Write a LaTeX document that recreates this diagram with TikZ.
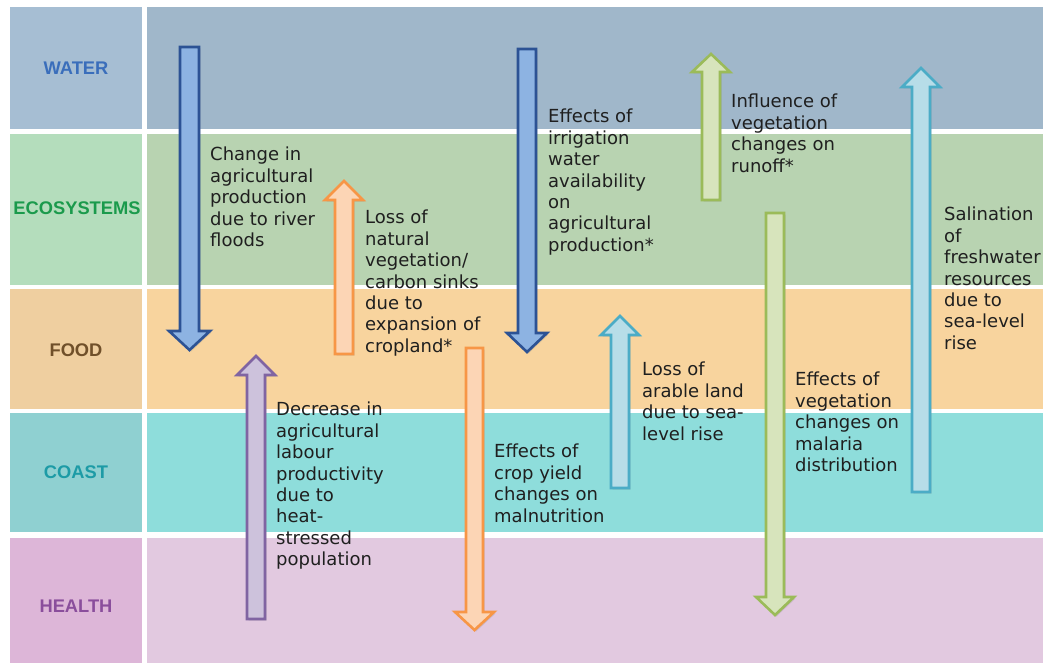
\documentclass[tikz,border=0pt]{standalone}
\usepackage{fontspec}
\setmainfont{DejaVu Sans}
\newfontfamily\labelfont{Liberation Sans}
\usepackage{tikz}
\usetikzlibrary{shadows}

\definecolor{waterbg}{HTML}{A6BED3}
\definecolor{watercell}{HTML}{A0B7CA}
\definecolor{watertext}{HTML}{3A6EBB}
\definecolor{ecobg}{HTML}{B4DDBC}
\definecolor{ecocell}{HTML}{B8D3B1}
\definecolor{ecotext}{HTML}{1B9A4C}
\definecolor{foodbg}{HTML}{EFCFA0}
\definecolor{foodcell}{HTML}{F8D49E}
\definecolor{foodtext}{HTML}{70502A}
\definecolor{coastbg}{HTML}{8FD0D1}
\definecolor{coastcell}{HTML}{8EDDDB}
\definecolor{coasttext}{HTML}{1D9BA6}
\definecolor{healthbg}{HTML}{DDB6D8}
\definecolor{healthcell}{HTML}{E2C9E0}
\definecolor{healthtext}{HTML}{8A4E9C}

\begin{document}
\begin{tikzpicture}[
      x=1pt,y=-1pt,
      rowlabel/.style={font=\labelfont\bfseries\fontsize{18.3}{20}\selectfont,inner sep=0pt},
      effect/.style={anchor=north west,align=left,inner sep=0pt,text=black!88,
        font=\fontsize{18}{21.4}\selectfont},
      arr/.style={line width=2.6pt,line join=miter,
        drop shadow={opacity=0.25,shadow xshift=1.5pt,shadow yshift=-1.5pt}},
      bluearr/.style={arr,draw={rgb,255:red,44;green,82;blue,148},fill={rgb,255:red,141;green,179;blue,226}},
      purplearr/.style={arr,draw={rgb,255:red,128;green,100;blue,162},fill={rgb,255:red,205;green,194;blue,220}},
      orangearr/.style={arr,draw={rgb,255:red,247;green,150;blue,70},fill={rgb,255:red,252;green,213;blue,181}},
      cyanarr/.style={arr,draw={rgb,255:red,75;green,172;blue,198},fill={rgb,255:red,183;green,221;blue,232}},
      greenarr/.style={arr,draw={rgb,255:red,155;green,187;blue,89},fill={rgb,255:red,215;green,228;blue,188}}
    ]
    \useasboundingbox[fill=white] (0,0) rectangle (1043,663);
    % Draw the rows.
    \fill[waterbg]  (10,7)   rectangle (142,129);
    \fill[watercell] (147,7) rectangle (1043,129);
    \fill[ecobg]  (10,134)   rectangle (142,285);
    \fill[ecocell] (147,134) rectangle (1043,285);
    \fill[foodbg]  (10,289)   rectangle (142,409);
    \fill[foodcell] (147,289) rectangle (1043,409);
    \fill[coastbg]  (10,413)   rectangle (142,532);
    \fill[coastcell] (147,413) rectangle (1043,532);
    \fill[healthbg]  (10,538)   rectangle (142,663);
    \fill[healthcell] (147,538) rectangle (1043,663);
    % Row labels.
    \node[rowlabel,text=watertext]  (water)  at (76,68)  {WATER};
    \node[rowlabel,text=ecotext]    (eco)    at (77,208) {ECOSYSTEMS};
    \node[rowlabel,text=foodtext]   (food)   at (76,350) {FOOD};
    \node[rowlabel,text=coasttext]  (coast)  at (76,472) {COAST};
    \node[rowlabel,text=healthtext] (health) at (76,606) {HEALTH};
    % Draw the arrows.
    \draw[bluearr]   (180,47)  -- (199,47)  -- (199,331) -- (210,331) -- (189.5,350) -- (169,331) -- (180,331) -- cycle;
    \draw[purplearr] (247,619) -- (265,619) -- (265,375) -- (275,375) -- (256,356) -- (237,375) -- (247,375) -- cycle;
    \draw[orangearr] (335,354) -- (353,354) -- (353,200) -- (363,200) -- (344,181) -- (325,200) -- (335,200) -- cycle;
    \draw[orangearr] (466,348) -- (483,348) -- (483,612) -- (494,612) -- (474.5,630) -- (455,612) -- (466,612) -- cycle;
    \draw[bluearr]   (518,49)  -- (536,49)  -- (536,333) -- (547,333) -- (527,352) -- (507,333) -- (518,333) -- cycle;
    \draw[cyanarr]   (611,488) -- (629,488) -- (629,335) -- (639,335) -- (620,316) -- (601,335) -- (611,335) -- cycle;
    \draw[greenarr]  (702,200) -- (720,200) -- (720,72)  -- (730,72)  -- (711,54)  -- (692,72)  -- (702,72)  -- cycle;
    \draw[greenarr]  (766,213) -- (784,213) -- (784,597) -- (794,597) -- (775,615) -- (756,597) -- (766,597) -- cycle;
    \draw[cyanarr]   (912,492) -- (930,492) -- (930,87)  -- (940,87)  -- (921,68)  -- (902,87)  -- (912,87)  -- cycle;
    % Draw the effect texts.
    \node[effect] (floods)    at (210,147) {Change in\\agricultural\\production\\due to river\\floods};
    \node[effect] (cropland)  at (365,210) {Loss of\\natural\\vegetation/\\carbon sinks\\due to\\expansion of\\cropland*};
    \node[effect] (irrigation) at (548,109) {Effects of\\irrigation\\water\\availability\\on\\agricultural\\production*};
    \node[effect] (runoff)    at (731,94)  {Influence of\\vegetation\\changes on\\runoff*};
    \node[effect] (salination) at (944,207) {Salination\\of\\freshwater\\resources\\due to\\sea-level\\rise};
    \node[effect] (heat)      at (276,402) {Decrease in\\agricultural\\labour\\productivity\\due to\\heat-\\stressed\\population};
    \node[effect] (malnutrition) at (494,444) {Effects of\\crop yield\\changes on\\malnutrition};
    \node[effect] (arable)    at (642,362) {Loss of\\arable land\\due to sea-\\level rise};
    \node[effect] (malaria)   at (795,372) {Effects of\\vegetation\\changes on\\malaria\\distribution};
    \end{tikzpicture}
\end{document}
